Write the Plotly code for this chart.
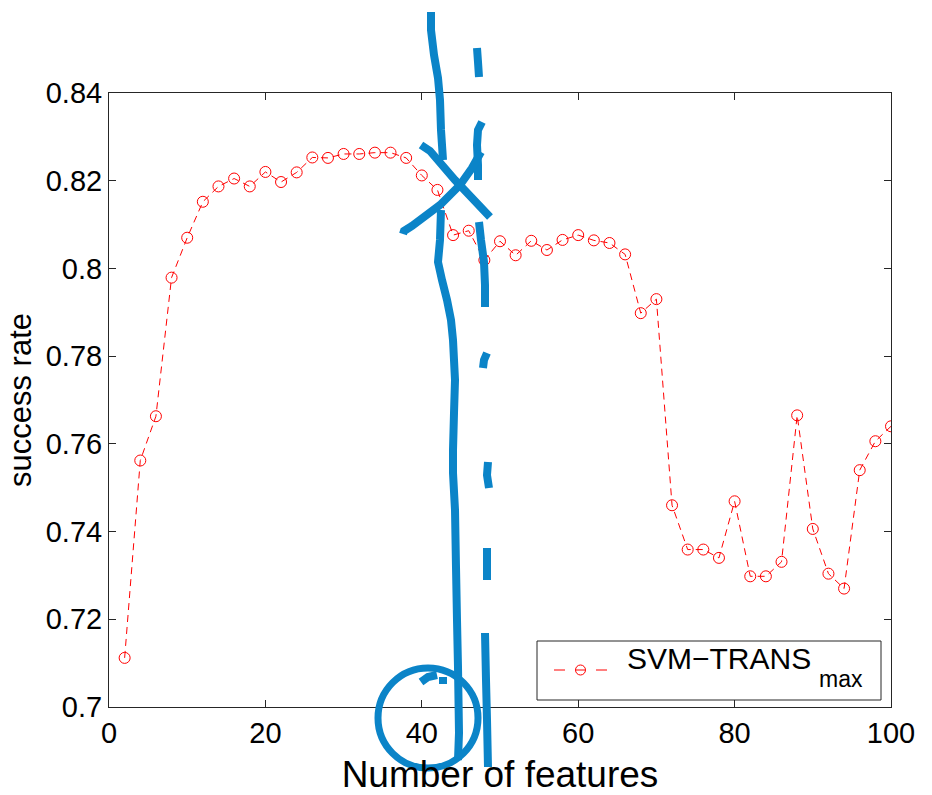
import plotly.graph_objects as go

# ---------------- data ----------------
num_features = [2, 4, 6, 8, 10, 12, 14, 16, 18, 20, 22, 24, 26, 28, 30, 32, 34, 36, 38, 40,
                42, 44, 46, 48, 50, 52, 54, 56, 58, 60, 62, 64, 66, 68, 70, 72, 74, 76, 78, 80,
                82, 84, 86, 88, 90, 92, 94, 96, 98, 100]
success_rate = [0.7112, 0.7562, 0.7663, 0.7979, 0.8070, 0.8152, 0.8187, 0.8205, 0.8187, 0.8220,
                0.8197, 0.8219, 0.8253, 0.8252, 0.8261, 0.8261, 0.8264, 0.8264, 0.8252, 0.8212,
                0.8179, 0.8076, 0.8086, 0.8019, 0.8062, 0.8030, 0.8063, 0.8042, 0.8065, 0.8076,
                0.8064, 0.8058, 0.8032, 0.7898, 0.7930, 0.7460, 0.7359, 0.7359, 0.7340, 0.7469,
                0.7298, 0.7298, 0.7331, 0.7665, 0.7406, 0.7304, 0.7270, 0.7540, 0.7606, 0.7640]
series_label = "SVM\u2212TRANS"
series_subscript = "max"

x_ticks = [0, 20, 40, 60, 80, 100]
x_tick_labels = ["0", "20", "40", "60", "80", "100"]
y_ticks = [0.70, 0.72, 0.74, 0.76, 0.78, 0.80, 0.82, 0.84]
y_tick_labels = ["0.7", "0.72", "0.74", "0.76", "0.78", "0.8", "0.82", "0.84"]

# ---------------- layout constants ----------------
W, H = 932, 795
ML, MR, MT, MB = 109, 41, 93, 88
PW, PH = W - ML - MR, H - MT - MB
FONT = "Liberation Sans, Arial, sans-serif"
INK = "#0b84c8"
AX = "#262626"


def px(xp):
    return (xp - ML) / PW


def py(yp):
    return (H - MB - yp) / PH


def stroke_path(points):
    return "M" + " L".join(f"{px(a):.5f},{py(b):.5f}" for a, b in points)


# hand-drawn blue pen strokes (pixel positions on the page)
pen_strokes = [
    [(431, 12), (431, 30), (434, 55), (438, 78), (440, 100), (441, 130), (443, 160)],
    [(441, 210), (440, 240), (438, 262), (442, 280), (447, 300), (451, 320), (453, 340),
     (455, 380), (454, 413), (453, 450), (453, 473), (455, 510), (456, 567), (457, 620),
     (458, 667), (459, 733), (458, 760)],
    [(477, 48), (478, 62), (479, 77)],
    [(482, 122), (478, 130), (477, 145), (478, 165), (478, 180)],
    [(479, 222), (481, 240), (484, 262), (485, 285), (485, 307)],
    [(487, 353), (484, 360), (483, 368)],
    [(488, 462), (487, 475), (489, 488)],
    [(487, 548), (487, 580)],
    [(485, 633), (486, 680), (487, 720), (488, 767)],
    [(421, 145), (430, 151), (455, 180), (490, 217)],
    [(403, 234), (404, 231), (412, 226), (440, 205), (460, 185), (472, 168), (481, 152)],
    [(421, 682), (428, 677), (437, 675)],
    [(443, 677), (443, 684)],
]

fig = go.Figure()
fig.add_trace(go.Scatter(
    x=num_features, y=success_rate, mode="lines+markers",
    name=series_label + "<sub>" + series_subscript + "</sub>", showlegend=False,
    line=dict(color="red", width=1, dash="7px,5px"),
    marker=dict(symbol="circle-open", size=11, color="red", line=dict(width=1, color="red")),
))

shapes = []
# legend box (MATLAB style) drawn by hand
shapes.append(dict(type="rect", xref="paper", yref="paper",
                   x0=px(537), x1=px(881), y0=py(700), y1=py(641),
                   line=dict(color=AX, width=1), fillcolor="white", layer="above"))
for seg in [((554, 670), (565, 670)), ((596, 670), (607, 670))]:
    shapes.append(dict(type="line", xref="paper", yref="paper",
                       x0=px(seg[0][0]), y0=py(seg[0][1]), x1=px(seg[1][0]), y1=py(seg[1][1]),
                       line=dict(color="red", width=1), layer="above"))
shapes.append(dict(type="circle", xref="paper", yref="paper",
                   x0=px(575.5), x1=px(585.5), y0=py(675), y1=py(665),
                   line=dict(color="red", width=1), layer="above"))
shapes.append(dict(type="line", xref="paper", yref="paper",
                   x0=px(576), x1=px(585), y0=py(670), y1=py(670),
                   line=dict(color="red", width=1), layer="above"))

for pts in pen_strokes:
    shapes.append(dict(type="path", xref="paper", yref="paper", path=stroke_path(pts),
                       line=dict(color=INK, width=8), layer="above"))
shapes.append(dict(type="circle", xref="paper", yref="paper",
                   x0=px(378), x1=px(478), y0=py(768), y1=py(668),
                   line=dict(color=INK, width=7), layer="above"))

annotations = [
    dict(text=series_label, xref="paper", yref="paper", x=px(625), y=py(658),
         xanchor="left", yanchor="middle", showarrow=False,
         font=dict(family=FONT, size=30, color="black")),
    dict(text=series_subscript, xref="paper", yref="paper", x=px(817), y=py(679),
         xanchor="left", yanchor="middle", showarrow=False,
         font=dict(family=FONT, size=23, color="black")),
]

axis_common = dict(showgrid=False, zeroline=False, showline=True, linecolor=AX,
                   linewidth=1, mirror="ticks", ticks="inside", ticklen=7, automargin=False,
                   tickcolor=AX, tickfont=dict(family=FONT, size=29, color="black"))

fig.update_layout(
    width=W, height=H, margin=dict(l=ML, r=MR, t=MT, b=MB, pad=0, autoexpand=False),
    paper_bgcolor="white", plot_bgcolor="white",
    font=dict(family=FONT, color="black"),
    xaxis=dict(range=[0, 100], tickvals=x_ticks, ticktext=x_tick_labels,
               title=dict(text="Number of features", font=dict(family=FONT, size=37),
                          standoff=15), **axis_common),
    yaxis=dict(range=[0.70, 0.84], tickvals=y_ticks, ticktext=y_tick_labels,
               title=dict(text="success rate", font=dict(family=FONT, size=31),
                          standoff=4), **axis_common),
    showlegend=False,
    shapes=shapes,
    annotations=annotations,
)

fig.write_html("out.html")
